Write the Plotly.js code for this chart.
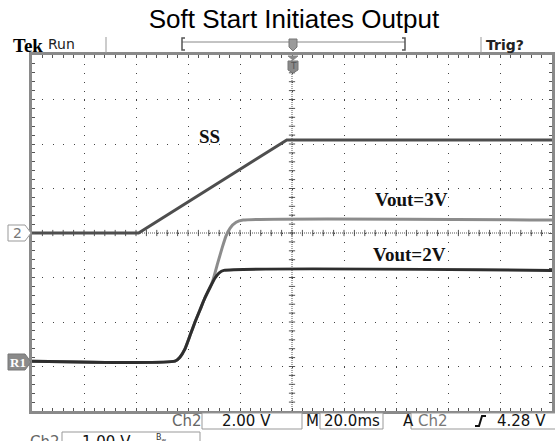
<!DOCTYPE html>
<html><head><meta charset="utf-8">
<script src="https://cdn.plot.ly/plotly-3.0.1.min.js"></script>
<style>html,body{margin:0;padding:0;background:#fff}#chart{width:555px;height:441px}</style>
</head><body><div id="chart"></div>
<script>
// ---- data (time in ms, trigger at centre; values in volts) ----
const ssTimeMs    = [-100, -59, -2, 100];
const ssVolts     = [0, 0, 4.18, 4.18];
const vout3TimeMs = [-100, -45, -43.1, -41.2, -39.2, -37.3, -35.4, -33.5, -31.5, -30.4, -28.5, -26.9, -25.4, -23.8, -21.5, -18.8, 100];
const vout3Volts  = [0, 0, 0.09, 0.27, 0.58, 0.88, 1.15, 1.42, 1.66, 1.82, 2.22, 2.54, 2.81, 2.99, 3.12, 3.17, 3.17];
const vout2TimeMs = [-100, -45, -43.1, -41.2, -39.2, -37.3, -35.4, -33.5, -31.5, -29.6, -28.1, -26.2, 100];
const vout2Volts  = [0, 0, 0.09, 0.27, 0.58, 0.88, 1.15, 1.42, 1.66, 1.87, 1.98, 2.04, 2.04];
const traceLabels = ['SS', 'Vout=3V', 'Vout=2V'];
const ch2VoltsPerDiv = 2, ch2OffsetDiv = 0;
const r1VoltsPerDiv = 1, r1OffsetDiv = -2.88;
const chartTitle = 'Soft Start Initiates Output';

// ---- helpers ----
const L = 32, T = 55, W = 520, H = 356;
const px = x => (x - L) / W;
const py = y => (T + H - y) / H;
const toDiv = (arr, vpd, off) => arr.map(v => v / vpd + off);

const traces = [
  {x: ssTimeMs, y: toDiv(ssVolts, ch2VoltsPerDiv, ch2OffsetDiv), name: traceLabels[0], mode: 'lines', line: {color: '#4e4e4e', width: 3}},
  {x: vout3TimeMs, y: toDiv(vout3Volts, r1VoltsPerDiv, r1OffsetDiv), name: traceLabels[1], mode: 'lines', line: {color: '#8c8c8c', width: 3, shape: 'spline', smoothing: 0.5}},
  {x: vout2TimeMs, y: toDiv(vout2Volts, r1VoltsPerDiv, r1OffsetDiv), name: traceLabels[2], mode: 'lines', line: {color: '#2e2e2e', width: 3, shape: 'spline', smoothing: 0.5}}
];

const shapes = [];
// centre cross (dense dotted) with minor ticks
shapes.push({type: 'line', xref: 'x', yref: 'y', x0: 0, x1: 0, y0: -4, y1: 4, layer: 'below', line: {color: '#555', width: 1, dash: '1px,1px'}});
shapes.push({type: 'line', xref: 'x', yref: 'y', x0: -100, x1: 100, y0: 0, y1: 0, layer: 'below', line: {color: '#555', width: 1, dash: '1px,1px'}});
for (let k = -19; k <= 19; k++) {
  shapes.push({type: 'line', xref: 'x', yref: 'y', x0: -1.2, x1: 1.2, y0: k / 5, y1: k / 5, layer: 'below', line: {color: '#555', width: 1}});
}
for (let k = -24; k <= 24; k++) {
  shapes.push({type: 'line', xref: 'x', yref: 'y', x0: k * 4, x1: k * 4, y0: -0.07, y1: 0.07, layer: 'below', line: {color: '#555', width: 1}});
}
// header separators and trigger bar
const P = (x, y) => `${px(x)},${py(y)}`;
shapes.push({type: 'line', xref: 'paper', yref: 'paper', x0: px(106), x1: px(106), y0: py(37), y1: py(53), line: {color: '#999', width: 1}});
shapes.push({type: 'line', xref: 'paper', yref: 'paper', x0: px(481), x1: px(481), y0: py(37), y1: py(53), line: {color: '#999', width: 1}});
shapes.push({type: 'line', xref: 'paper', yref: 'paper', x0: px(182), x1: px(405), y0: py(42), y1: py(42), line: {color: '#888', width: 1}});
shapes.push({type: 'path', xref: 'paper', yref: 'paper', path: `M${P(185,38)}L${P(182,38)}L${P(182,50)}L${P(185,50)}`, line: {color: '#555', width: 1.5}});
shapes.push({type: 'path', xref: 'paper', yref: 'paper', path: `M${P(402,38)}L${P(405,38)}L${P(405,50)}L${P(402,50)}`, line: {color: '#555', width: 1.5}});
shapes.push({type: 'path', xref: 'paper', yref: 'paper', path: `M${P(289,39)}L${P(297,39)}L${P(297,47)}L${P(293,51)}L${P(289,47)}Z`, fillcolor: '#9a9a9a', line: {color: '#777', width: 1}});
// trigger-position marker below top border
shapes.push({type: 'path', xref: 'paper', yref: 'paper', path: `M${P(288,56)}L${P(298,56)}L${P(293,60)}Z`, fillcolor: '#888', line: {color: '#888', width: 1}});
shapes.push({type: 'path', xref: 'paper', yref: 'paper', path: `M${P(288,61)}L${P(298,61)}L${P(298,70)}L${P(293,73)}L${P(288,70)}Z`, fillcolor: '#8a8a8a', line: {color: '#777', width: 1}});
// left channel markers
shapes.push({type: 'path', xref: 'paper', yref: 'paper', path: `M${P(8,225)}L${P(25,225)}L${P(31,233)}L${P(25,241)}L${P(8,241)}Z`, fillcolor: '#fff', line: {color: '#999', width: 1}});
shapes.push({type: 'path', xref: 'paper', yref: 'paper', path: `M${P(8,354)}L${P(25,354)}L${P(31,362)}L${P(25,370)}L${P(8,370)}Z`, fillcolor: '#8a8a8a', line: {color: '#777', width: 1}});
// bottom readout boxes
const box = (x0, x1, y0, y1) => ({type: 'rect', xref: 'paper', yref: 'paper', x0: px(x0), x1: px(x1), y0: py(y1), y1: py(y0), fillcolor: '#fff', line: {color: '#999', width: 1}});
shapes.push(box(202, 302, 413, 429));
shapes.push(box(320, 383, 413, 429));
shapes.push(box(411, 560, 413, 429));
shapes.push(box(62, 200, 432, 450));
// rising-edge symbol
shapes.push({type: 'path', xref: 'paper', yref: 'paper', path: `M${P(475,426)}L${P(479,426)}L${P(482,416)}L${P(486,416)}`, line: {color: '#111', width: 2}});

const A = (text, x, y, o = {}) => Object.assign({text, xref: 'paper', yref: 'paper', x: px(x), y: py(y), xanchor: 'left', yanchor: 'middle', showarrow: false,
  font: {family: 'DejaVu Sans, sans-serif', size: 14, color: '#111'}}, o);

const annotations = [
  // trace labels (data coordinates)
  {text: '<b>' + traceLabels[0] + '</b>', xref: 'x', yref: 'y', x: -31.9, y: 2.16, showarrow: false, font: {family: 'Liberation Serif, serif', size: 19, color: '#111'}},
  {text: '<b>' + traceLabels[1] + '</b>', xref: 'x', yref: 'y', x: 45.8, y: 0.76, showarrow: false, font: {family: 'Liberation Serif, serif', size: 19, color: '#111'}},
  {text: '<b>' + traceLabels[2] + '</b>', xref: 'x', yref: 'y', x: 45.0, y: -0.49, showarrow: false, font: {family: 'Liberation Serif, serif', size: 19, color: '#111'}},
  // header
  A('<b>Tek</b>', 11, 45, {font: {family: 'Liberation Serif, serif', size: 19, color: '#000'}}),
  A('Run', 46, 44, {font: {family: 'DejaVu Sans, sans-serif', size: 14, color: '#222'}}),
  A('<b>Trig?</b>', 484, 45, {font: {family: 'DejaVu Sans, sans-serif', size: 14, color: '#222'}}),
  A('T', 293, 66, {xanchor: 'center', font: {family: 'DejaVu Sans, sans-serif', size: 9, color: '#555'}}),
  // left markers
  A('2', 11, 233, {font: {family: 'DejaVu Sans, sans-serif', size: 14, color: '#777'}}),
  A('<b>R1</b>', 8, 362, {font: {family: 'Liberation Serif, serif', size: 13, color: '#fff'}}),
  // bottom readout
  A('Ch2', 170, 421, {font: {family: 'DejaVu Sans, sans-serif', size: 15, color: '#666'}}),
  A('2.00 V', 220, 421, {font: {family: 'DejaVu Sans, sans-serif', size: 15, color: '#111'}}),
  A('M', 304, 421, {font: {family: 'DejaVu Sans, sans-serif', size: 15, color: '#111'}}),
  A('20.0ms', 322, 421, {font: {family: 'DejaVu Sans, sans-serif', size: 15, color: '#111'}}),
  A('A', 401, 421, {font: {family: 'DejaVu Sans, sans-serif', size: 15, color: '#111'}}),
  A('Ch2', 416, 421, {font: {family: 'DejaVu Sans, sans-serif', size: 15, color: '#777'}}),
  A('4.28 V', 495, 421, {font: {family: 'DejaVu Sans, sans-serif', size: 15, color: '#111'}}),
  A('Ch2', 28, 442, {font: {family: 'DejaVu Sans, sans-serif', size: 15, color: '#666'}}),
  A('1.00 V', 80, 442, {font: {family: 'DejaVu Sans, sans-serif', size: 15, color: '#111'}}),
  A('B<sub>w</sub>', 154, 438, {font: {family: 'DejaVu Sans, sans-serif', size: 8, color: '#333'}})
];

const layout = {
  width: 555, height: 441,
  margin: {l: L, r: 555 - L - W, t: T, b: 441 - T - H, pad: 0},
  paper_bgcolor: '#fff', plot_bgcolor: '#fff',
  showlegend: false,
  title: {text: chartTitle, x: px(294), xref: 'paper', xanchor: 'center', y: 1 - 19 / 441, yanchor: 'middle',
          font: {family: 'Liberation Sans, Arial, sans-serif', size: 26, color: '#000'}},
  xaxis: {range: [-100, 100], tick0: 0, dtick: 20, showticklabels: false, zeroline: false,
          showgrid: true, gridcolor: '#444', gridwidth: 1, griddash: '1px,7.9px',
          ticks: 'inside', ticklen: 3, tickcolor: '#555', tickwidth: 1,
          showline: true, linecolor: '#8a8a8a', linewidth: 3, mirror: 'allticks',
          minor: {dtick: 4, ticks: 'inside', ticklen: 3, tickcolor: '#555', showgrid: false},
          fixedrange: true},
  yaxis: {range: [-4, 4], tick0: 0, dtick: 1, showticklabels: false, zeroline: false,
          showgrid: true, gridcolor: '#444', gridwidth: 1, griddash: '1px,9.4px',
          ticks: 'inside', ticklen: 3, tickcolor: '#555', tickwidth: 1,
          showline: true, linecolor: '#8a8a8a', linewidth: 3, mirror: 'allticks',
          minor: {dtick: 0.2, ticks: 'inside', ticklen: 3, tickcolor: '#555', showgrid: false},
          fixedrange: true},
  shapes, annotations
};

Plotly.newPlot('chart', traces, layout, {staticPlot: true, displayModeBar: false});
</script>
</body></html>
